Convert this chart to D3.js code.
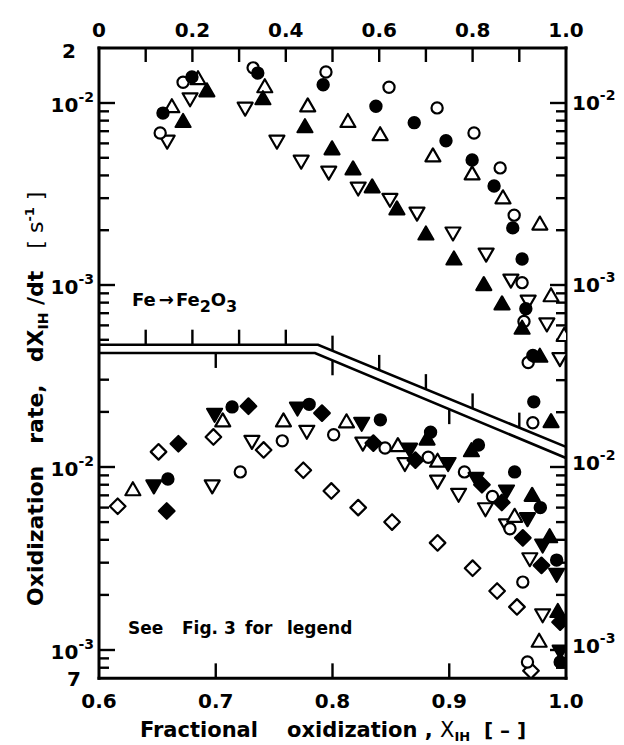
<!DOCTYPE html>
<html><head><meta charset="utf-8">
<script src="https://cdn.jsdelivr.net/npm/d3@7"></script>
<style>
html,body{margin:0;padding:0;background:#fff;}
svg{display:block;}
text{font-family:"DejaVu Sans",sans-serif;font-weight:bold;fill:#000;}
</style></head>
<body>
<svg id="chart" width="624" height="745"></svg>
<script>
// ---------- DATA ----------
// Top panel (Fe -> Fe2O3), x: fractional oxidization 0..1, y: rate [1/s]
const topFilledCircle = [[0.137,8.8e-3],[0.199,1.39e-2],[0.34,1.46e-2],[0.48,1.26e-2],[0.593,9.6e-3],[0.675,7.8e-3],[0.743,6.2e-3],[0.799,4.86e-3],[0.846,3.5e-3],[0.886,2.06e-3],[0.906,1.39e-3],[0.914,7.4e-4],[0.929,4.1e-4],[0.931,2.28e-4]];
const topOpenCircle = [[0.131,6.84e-3],[0.18,1.30e-2],[0.33,1.56e-2],[0.486,1.48e-2],[0.621,1.22e-2],[0.724,9.4e-3],[0.803,6.84e-3],[0.859,4.4e-3],[0.889,2.42e-3],[0.906,1.03e-3],[0.91,6.3e-4],[0.919,3.75e-4],[0.929,1.75e-4]];
const topOpenTriUp = [[0.156,9.4e-3],[0.212,1.34e-2],[0.355,1.21e-2],[0.447,9.5e-3],[0.533,7.8e-3],[0.602,6.6e-3],[0.715,5.05e-3],[0.799,4.02e-3],[0.865,2.97e-3],[0.944,2.13e-3],[0.968,8.6e-4],[0.996,5.2e-4]];
const topFilledTriUp = [[0.18,7.8e-3],[0.231,1.15e-2],[0.351,1.04e-2],[0.441,7.3e-3],[0.499,5.52e-3],[0.544,4.28e-3],[0.585,3.41e-3],[0.638,2.58e-3],[0.70,1.88e-3],[0.76,1.37e-3],[0.824,9.9e-4],[0.863,7.76e-4],[0.906,5.7e-4],[0.944,4.0e-4],[0.968,1.75e-4]];
const topOpenTriDown = [[0.146,6.26e-3],[0.195,1.07e-2],[0.313,9.5e-3],[0.381,6.26e-3],[0.433,4.86e-3],[0.492,4.23e-3],[0.555,3.46e-3],[0.623,3.0e-3],[0.681,2.52e-3],[0.758,1.96e-3],[0.829,1.5e-3],[0.882,1.08e-3],[0.919,8.27e-4],[0.959,6.2e-4],[0.987,4.0e-4]];

// Bottom panel, x: 0.6..1.0
const botFilledCircle = [[0.659,8.6e-3],[0.714,2.13e-2],[0.78,2.2e-2],[0.841,1.81e-2],[0.884,1.55e-2],[0.925,1.32e-2],[0.956,9.4e-3],[0.978,6.0e-3],[0.992,3.1e-3],[0.995,8.6e-4]];
const botOpenCircle = [[0.721,9.4e-3],[0.757,1.39e-2],[0.801,1.50e-2],[0.845,1.27e-2],[0.882,1.13e-2],[0.913,9.4e-3],[0.937,6.9e-3],[0.952,4.6e-3],[0.963,2.35e-3],[0.967,8.6e-4]];
const botOpenTriUp = [[0.629,7.4e-3],[0.706,1.76e-2],[0.758,1.76e-2],[0.812,1.74e-2],[0.856,1.29e-2],[0.89,1.06e-2],[0.956,5.3e-3],[0.977,1.1e-3]];
const botOpenTriDown = [[0.697,8.0e-3],[0.731,1.40e-2],[0.778,1.59e-2],[0.826,1.37e-2],[0.862,1.06e-2],[0.89,8.5e-3],[0.908,7.2e-3],[0.931,6.0e-3],[0.949,4.9e-3],[0.969,3.2e-3],[0.98,1.58e-3]];
const botFilledTriDown = [[0.647,8.0e-3],[0.699,1.97e-2],[0.77,2.13e-2],[0.825,1.76e-2],[0.866,1.27e-2],[0.899,1.06e-2],[0.923,8.8e-3],[0.949,7.5e-3],[0.967,5.3e-3],[0.98,3.8e-3],[0.992,2.63e-3],[0.995,1.0e-3]];
const botFilledDiamond = [[0.658,5.75e-3],[0.668,1.34e-2],[0.728,2.15e-2],[0.791,1.97e-2],[0.835,1.35e-2],[0.871,1.09e-2],[0.928,8.0e-3],[0.945,6.4e-3],[0.963,4.1e-3],[0.979,2.9e-3],[0.995,1.42e-3]];
const botOpenDiamond = [[0.616,6.1e-3],[0.651,1.21e-2],[0.698,1.46e-2],[0.741,1.24e-2],[0.775,9.6e-3],[0.799,7.4e-3],[0.822,6.0e-3],[0.851,5.0e-3],[0.89,3.85e-3],[0.92,2.8e-3],[0.941,2.1e-3],[0.958,1.72e-3],[0.97,7.7e-4]];
const botFilledTriUp = [[0.881,1.40e-2],[0.919,1.21e-2],[0.971,6.9e-3],[0.986,4.1e-3],[0.993,1.6e-3]];

// tick values / labels
const topXTicks = [0.1,0.2,0.3,0.4,0.5,0.6,0.7,0.8,0.9];
const topXLabels = [[0,"0"],[0.2,"0.2"],[0.4,"0.4"],[0.6,"0.6"],[0.8,"0.8"],[1.0,"1.0"]];
const botXTicks = [0.7,0.8,0.9];
const botXLabels = [[0.6,"0.6"],[0.7,"0.7"],[0.8,"0.8"],[0.9,"0.9"],[1.0,"1.0"]];
const topYMajor = [1e-2,1e-3];
const botYMajor = [1e-2,1e-3];
// panel break lines (data coordinates)
const upperBreak = [[0,4.7e-4],[0.469,4.7e-4],[1.0,1.29e-4]];   // top-panel coords
const lowerBreak = [[0.6,4.2e-2],[0.785,4.2e-2],[1.0,1.12e-2]];  // bottom-panel coords

// ---------- LAYOUT ----------
const L = 99, R = 566, T = 48;
const svg = d3.select("#chart");
const xTop = d3.scaleLinear().domain([0,1]).range([L,R]);
const xBot = d3.scaleLinear().domain([0.6,1]).range([L,R]);
const yTop = d3.scaleLog().domain([1e-3,1e-2]).range([285,103]);
const yBot = d3.scaleLog().domain([1e-3,1e-2]).range([650,467]);
const B = yBot(7e-4);

const upPts = upperBreak.map(d=>[xTop(d[0]),yTop(d[1])]);
const loPts = lowerBreak.map(d=>[xBot(d[0]),yBot(d[1])]);
function yOnLine(pts,x){
  for(let i=0;i<pts.length-1;i++){
    const a=pts[i],b=pts[i+1];
    if(x>=a[0]&&x<=b[0]) return a[1]+(b[1]-a[1])*(x-a[0])/(b[0]-a[0]);
  }
  return pts[pts.length-1][1];
}

const defs = svg.append("defs");
defs.append("clipPath").attr("id","clipTop").append("polygon")
  .attr("points",[[L,T],[R,T]].concat(upPts.slice().reverse()).map(p=>p.join(",")).join(" "));
defs.append("clipPath").attr("id","clipBot").append("polygon")
  .attr("points",loPts.concat([[R,B],[L,B]]).map(p=>p.join(",")).join(" "));

const ink = "#000";
const frame = svg.append("g").attr("stroke",ink).attr("fill","none").attr("stroke-width",3).attr("stroke-linecap","square");
frame.append("line").attr("x1",L).attr("y1",T).attr("x2",R).attr("y2",T);
frame.append("line").attr("x1",L).attr("y1",T).attr("x2",L).attr("y2",B);
frame.append("line").attr("x1",R).attr("y1",T).attr("x2",R).attr("y2",B);
frame.append("line").attr("x1",L).attr("y1",B).attr("x2",R).attr("y2",B);
const lineGen = d3.line();
frame.append("path").attr("d",lineGen(upPts)).attr("stroke-width",2.6).attr("stroke-linecap","butt");
frame.append("path").attr("d",lineGen(loPts)).attr("stroke-width",2.6).attr("stroke-linecap","butt");

const ticks = svg.append("g").attr("stroke",ink).attr("stroke-width",2.4);
topXTicks.forEach(v=>ticks.append("line").attr("x1",xTop(v)).attr("x2",xTop(v)).attr("y1",T).attr("y2",T+14));
topXTicks.forEach(v=>{const x=xTop(v),y=yOnLine(upPts,x);ticks.append("line").attr("x1",x).attr("x2",x).attr("y1",y).attr("y2",y-15);});
botXTicks.forEach(v=>{const x=xBot(v),y=yOnLine(loPts,x);ticks.append("line").attr("x1",x).attr("x2",x).attr("y1",y).attr("y2",y+15);});
botXTicks.forEach(v=>ticks.append("line").attr("x1",xBot(v)).attr("x2",xBot(v)).attr("y1",B).attr("y2",B-15));

function yTicks(scale, vals, side){
  vals.forEach(v=>{
    const y=scale(v);
    const m = Math.abs(Math.log10(v)-Math.round(Math.log10(v)))<1e-6;
    const len = m?16:10;
    if(side==="L") ticks.append("line").attr("x1",L).attr("x2",L+len).attr("y1",y).attr("y2",y);
    else ticks.append("line").attr("x1",R).attr("x2",R-len).attr("y1",y).attr("y2",y);
  });
}
const mult=[2,3,4,5,6,7,8,9];
const topLeftVals = [1e-2].concat(mult.map(m=>m*1e-3)).concat([1e-3]).concat([9,8,7,6,5].map(m=>m*1e-4));
const topRightVals = [1e-2].concat(mult.map(m=>m*1e-3)).concat([1e-3]).concat([9,8,7,6,5,4,3,2].map(m=>m*1e-4));
const botVals = [3e-2,2e-2,1e-2].concat(mult.map(m=>m*1e-3)).concat([1e-3,9e-4,8e-4]);
const botRightVals = [1e-2].concat(mult.map(m=>m*1e-3)).concat([1e-3,9e-4,8e-4]);
yTicks(yTop, topLeftVals, "L");
yTicks(yTop, topRightVals, "R");
yTicks(yBot, botVals, "L");
yTicks(yBot, botRightVals, "R");

// ---------- MARKERS ----------
function markerPath(type){
  const s=15, h=s*Math.sqrt(3)/2;
  if(type==="circle") return d3.symbol(d3.symbolCircle, Math.PI*5.6*5.6)();
  if(type==="triUp") return `M0,${-2*h/3}L${s/2},${h/3}L${-s/2},${h/3}Z`;
  if(type==="triDown") return `M0,${2*h/3}L${s/2},${-h/3}L${-s/2},${-h/3}Z`;
  if(type==="diamond") return "M0,-7.8L7.8,0L0,7.8L-7.8,0Z";
}
function plot(g, xs, ys, data, type, filled){
  g.append("g").selectAll("path").data(data).join("path")
    .attr("d", markerPath(type))
    .attr("transform", d=>`translate(${xs(d[0])},${ys(d[1])})`)
    .attr("fill", filled?ink:"#fff").attr("stroke", ink).attr("stroke-width",2.2)
    .attr("stroke-linejoin","round");
}
const gTop = svg.append("g").attr("clip-path","url(#clipTop)");
plot(gTop,xTop,yTop,topOpenTriDown,"triDown",false);
plot(gTop,xTop,yTop,topOpenTriUp,"triUp",false);
plot(gTop,xTop,yTop,topOpenCircle,"circle",false);
plot(gTop,xTop,yTop,topFilledTriUp,"triUp",true);
plot(gTop,xTop,yTop,topFilledCircle,"circle",true);

const gBot = svg.append("g").attr("clip-path","url(#clipBot)");
plot(gBot,xBot,yBot,botOpenDiamond,"diamond",false);
plot(gBot,xBot,yBot,botOpenTriDown,"triDown",false);
plot(gBot,xBot,yBot,botOpenTriUp,"triUp",false);
plot(gBot,xBot,yBot,botOpenCircle,"circle",false);
plot(gBot,xBot,yBot,botFilledDiamond,"diamond",true);
plot(gBot,xBot,yBot,botFilledTriDown,"triDown",true);
plot(gBot,xBot,yBot,botFilledTriUp,"triUp",true);
plot(gBot,xBot,yBot,botFilledCircle,"circle",true);

// ---------- TEXT ----------
const txt = svg.append("g");
topXLabels.forEach(d=>txt.append("text").attr("x",xTop(d[0])).attr("y",37).attr("text-anchor","middle").attr("font-size",20).text(d[1]));
botXLabels.forEach(d=>txt.append("text").attr("x",xBot(d[0])).attr("y",708).attr("text-anchor","middle").attr("font-size",20).text(d[1]));

function powLabel(x, y, exp, anchor){
  const t = txt.append("text").attr("x",x).attr("y",y).attr("text-anchor",anchor).attr("font-size",20).attr("font-weight","normal");
  t.append("tspan").text("10");
  t.append("tspan").attr("dy",-10).attr("font-size",14).attr("font-weight","bold").text(exp);
}
topYMajor.forEach(v=>powLabel(94, yTop(v)+9, "-"+(-Math.log10(v)).toFixed(0), "end"));
topYMajor.forEach(v=>powLabel(572, yTop(v)+7, "-"+(-Math.log10(v)).toFixed(0), "start"));
botYMajor.forEach(v=>powLabel(94, yBot(v)+9, "-"+(-Math.log10(v)).toFixed(0), "end"));
botYMajor.forEach(v=>powLabel(572, yBot(v)+3, "-"+(-Math.log10(v)).toFixed(0), "start"));
txt.append("text").attr("x",69).attr("y",yTop(2e-2)+10).attr("text-anchor","middle").attr("font-size",20).text("2");
txt.append("text").attr("x",74).attr("y",yBot(7e-4)+8).attr("text-anchor","middle").attr("font-size",20).text("7");

// Fe -> Fe2O3
const fe = txt.append("text").attr("x",132).attr("y",306).attr("font-size",18).attr("font-weight","normal");
fe.append("tspan").text("Fe");
fe.append("tspan").attr("dx",3).text("\u2192");
fe.append("tspan").attr("dx",2).text("Fe");
fe.append("tspan").attr("dy",6).attr("font-size",16).text("2");
fe.append("tspan").attr("dy",-6).text("O");
fe.append("tspan").attr("dy",6).attr("font-size",16).text("3");

// See Fig. 3 for legend
[["See",128],["Fig. 3",182],["for",245],["legend",287]].forEach(d=>
  txt.append("text").attr("x",d[1]).attr("y",634).attr("font-size",17).text(d[0]));

// x-axis title
[["Fractional",140],["oxidization ,",287]].forEach(d=>txt.append("text").attr("x",d[1]).attr("y",737).attr("font-size",21).text(d[0]));
const xx = txt.append("text").attr("x",440).attr("y",737).attr("font-size",21);
xx.append("tspan").attr("font-weight","normal").text("X");
xx.append("tspan").attr("dy",4).attr("font-size",13).text("IH");
txt.append("text").attr("x",484).attr("y",737).attr("font-size",20).attr("font-weight","normal").text("[ \u2013 ]");

// y-axis title
const yt = txt.append("text").attr("transform","translate(43,606) rotate(-90)").attr("font-size",22);
yt.append("tspan").text("Oxidization");
yt.append("tspan").attr("dx",22).text("rate,");
yt.append("tspan").attr("dx",22).text("dX");
yt.append("tspan").attr("dy",5).attr("font-size",14).text("IH");
yt.append("tspan").attr("dy",-5).text(" /dt");
yt.append("tspan").attr("dx",22).attr("font-weight","normal").text("[ s");
yt.append("tspan").attr("dy",-9).attr("font-size",13).text("-1");
yt.append("tspan").attr("dy",9).attr("font-weight","normal").text(" ]");
</script>
</body></html>
